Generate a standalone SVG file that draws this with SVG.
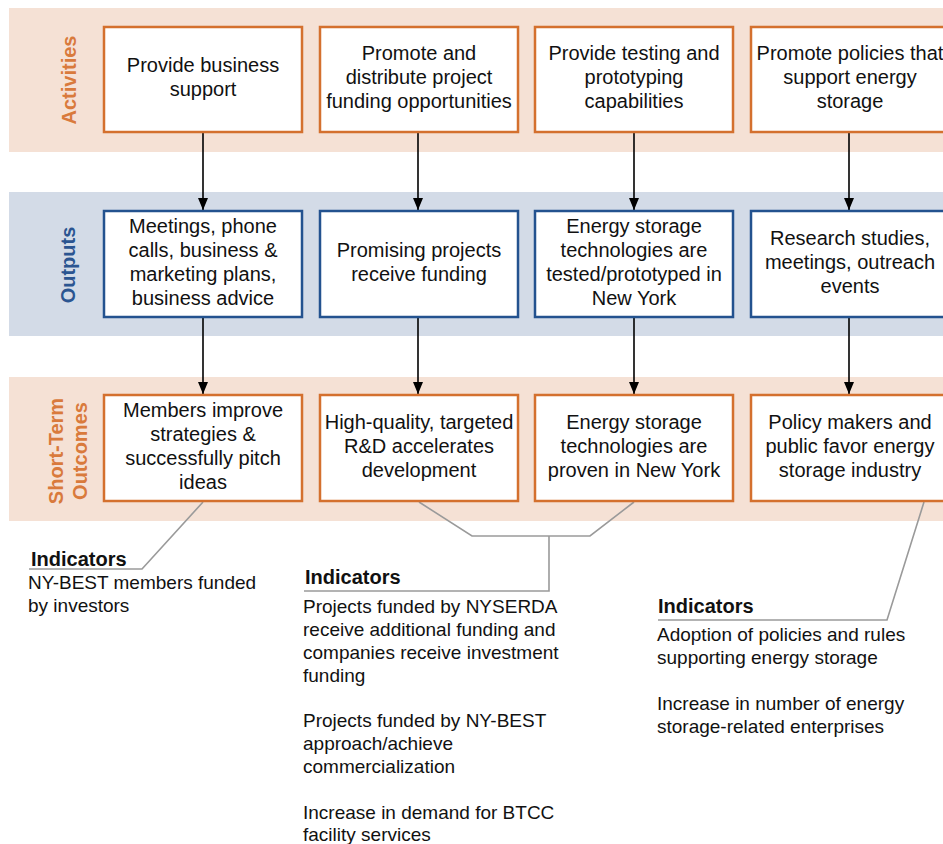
<svg xmlns="http://www.w3.org/2000/svg" width="943" height="844" viewBox="0 0 943 844">
<defs>
<style>
.bandA{fill:#f5e1d5}
.bandB{fill:#d3dbe7}
.ob{fill:#fff;stroke:#d4702e;stroke-width:2.5}
.bb{fill:#fff;stroke:#23528f;stroke-width:2.5}
.t{font-family:"Liberation Sans",Arial,sans-serif;font-size:20px;fill:#111;text-anchor:middle}
.lab{font-family:"Liberation Sans",Arial,sans-serif;font-size:20px;font-weight:bold;text-anchor:middle}
.lo{fill:#d97a3c}
.lb{fill:#2b5591}
.ih{font-family:"Liberation Sans",Arial,sans-serif;font-size:20px;font-weight:bold;fill:#111}
.it{font-family:"Liberation Sans",Arial,sans-serif;font-size:19px;fill:#111}
.arr{stroke:#000;stroke-width:1.6;fill:none}
.gl{stroke:#9a9a9a;stroke-width:1.6;fill:none}
</style>
<marker id="ah" viewBox="0 0 12 10" refX="12" refY="5" markerWidth="12" markerHeight="10" markerUnits="userSpaceOnUse" orient="auto">
<path d="M0,0 L12,5 L0,10 z" fill="#000"/>
</marker>
</defs>

<g id="bands">
<rect class="bandA" x="9" y="8" width="934" height="144"/>
<rect class="bandB" x="9" y="192" width="934" height="144"/>
<rect class="bandA" x="9" y="377" width="934" height="144"/>
</g>

<g id="labels">
<text class="lab lo" transform="translate(76,80) rotate(-90)">Activities</text>
<text class="lab lb" transform="translate(75,265) rotate(-90)">Outputs</text>
<text class="lab lo" font-size="19" transform="translate(63,451) rotate(-90)">Short-Term</text>
<text class="lab lo" font-size="19" transform="translate(87,451) rotate(-90)">Outcomes</text>
</g>

<g id="connectors">
<line class="arr" x1="203" y1="133" x2="203" y2="210" marker-end="url(#ah)"/>
<line class="arr" x1="418" y1="133" x2="418" y2="210" marker-end="url(#ah)"/>
<line class="arr" x1="634" y1="133" x2="634" y2="210" marker-end="url(#ah)"/>
<line class="arr" x1="849" y1="133" x2="849" y2="210" marker-end="url(#ah)"/>
<line class="arr" x1="203" y1="318" x2="203" y2="394" marker-end="url(#ah)"/>
<line class="arr" x1="418" y1="318" x2="418" y2="394" marker-end="url(#ah)"/>
<line class="arr" x1="634" y1="318" x2="634" y2="394" marker-end="url(#ah)"/>
<line class="arr" x1="849" y1="318" x2="849" y2="394" marker-end="url(#ah)"/>
<polyline class="gl" points="203,502 142,569 29,569"/>
<polyline class="gl" points="419,502 472,536 590,536 634,502"/>
<polyline class="gl" points="549,536 549,591 304,591"/>
<polyline class="gl" points="924,502 887,620 658,620"/>
</g>

<g id="a1"><rect class="ob" x="104" y="27" width="198" height="105"/>
<text class="t"><tspan x="203" y="72">Provide business</tspan><tspan x="203" y="96">support</tspan></text></g>
<g id="a2"><rect class="ob" x="320" y="27" width="198" height="105"/>
<text class="t"><tspan x="419" y="60">Promote and</tspan><tspan x="419" y="84">distribute project</tspan><tspan x="419" y="108">funding opportunities</tspan></text></g>
<g id="a3"><rect class="ob" x="535" y="27" width="198" height="105"/>
<text class="t"><tspan x="634" y="60">Provide testing and</tspan><tspan x="634" y="84">prototyping</tspan><tspan x="634" y="108">capabilities</tspan></text></g>
<g id="a4"><rect class="ob" x="751" y="27" width="198" height="105"/>
<text class="t"><tspan x="850" y="60">Promote policies that</tspan><tspan x="850" y="84">support energy</tspan><tspan x="850" y="108">storage</tspan></text></g>

<g id="o1"><rect class="bb" x="104" y="211" width="198" height="106"/>
<text class="t"><tspan x="203" y="233">Meetings, phone</tspan><tspan x="203" y="257">calls, business &amp;</tspan><tspan x="203" y="281">marketing plans,</tspan><tspan x="203" y="305">business advice</tspan></text></g>
<g id="o2"><rect class="bb" x="320" y="211" width="198" height="106"/>
<text class="t"><tspan x="419" y="257">Promising projects</tspan><tspan x="419" y="281">receive funding</tspan></text></g>
<g id="o3"><rect class="bb" x="535" y="211" width="198" height="106"/>
<text class="t"><tspan x="634" y="233">Energy storage</tspan><tspan x="634" y="257">technologies are</tspan><tspan x="634" y="281">tested/prototyped in</tspan><tspan x="634" y="305">New York</tspan></text></g>
<g id="o4"><rect class="bb" x="751" y="211" width="198" height="106"/>
<text class="t"><tspan x="850" y="245">Research studies,</tspan><tspan x="850" y="269">meetings, outreach</tspan><tspan x="850" y="293">events</tspan></text></g>

<g id="s1"><rect class="ob" x="104" y="395" width="198" height="106"/>
<text class="t"><tspan x="203" y="417">Members improve</tspan><tspan x="203" y="441">strategies &amp;</tspan><tspan x="203" y="465">successfully pitch</tspan><tspan x="203" y="489">ideas</tspan></text></g>
<g id="s2"><rect class="ob" x="320" y="395" width="198" height="106"/>
<text class="t"><tspan x="419" y="429">High-quality, targeted</tspan><tspan x="419" y="453">R&amp;D accelerates</tspan><tspan x="419" y="477">development</tspan></text></g>
<g id="s3"><rect class="ob" x="535" y="395" width="198" height="106"/>
<text class="t"><tspan x="634" y="429">Energy storage</tspan><tspan x="634" y="453">technologies are</tspan><tspan x="634" y="477">proven in New York</tspan></text></g>
<g id="s4"><rect class="ob" x="751" y="395" width="198" height="106"/>
<text class="t"><tspan x="850" y="429">Policy makers and</tspan><tspan x="850" y="453">public favor energy</tspan><tspan x="850" y="477">storage industry</tspan></text></g>

<g id="ind1">
<text class="ih" x="31" y="566">Indicators</text>
<text class="it"><tspan x="28" y="589">NY-BEST members funded</tspan><tspan x="28" y="612">by investors</tspan></text>
</g>
<g id="ind2">
<text class="ih" x="305" y="584">Indicators</text>
<text class="it"><tspan x="303" y="613">Projects funded by NYSERDA</tspan><tspan x="303" y="636">receive additional funding and</tspan><tspan x="303" y="659">companies receive investment</tspan><tspan x="303" y="682">funding</tspan><tspan x="303" y="727">Projects funded by NY-BEST</tspan><tspan x="303" y="750">approach/achieve</tspan><tspan x="303" y="773">commercialization</tspan><tspan x="303" y="819">Increase in demand for BTCC</tspan><tspan x="303" y="841">facility services</tspan></text>
</g>
<g id="ind3">
<text class="ih" x="658" y="613">Indicators</text>
<text class="it"><tspan x="657" y="641">Adoption of policies and rules</tspan><tspan x="657" y="664">supporting energy storage</tspan><tspan x="657" y="710">Increase in number of energy</tspan><tspan x="657" y="733">storage-related enterprises</tspan></text>
</g>
</svg>
